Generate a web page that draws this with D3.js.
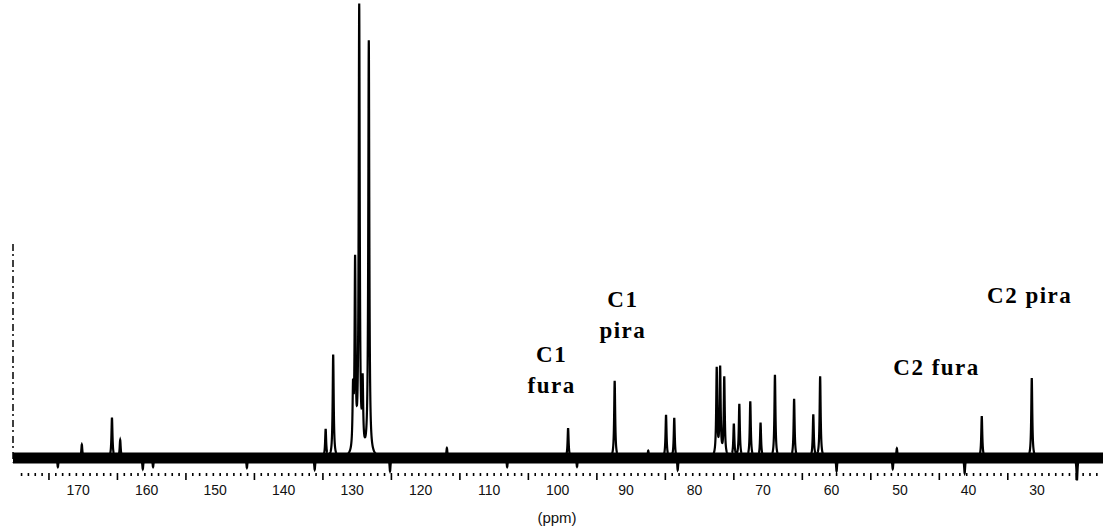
<!DOCTYPE html>
<html>
<head>
<meta charset="utf-8">
<script src="https://cdn.jsdelivr.net/npm/d3@7"></script>
<style>
  body { margin: 0; background: #fff; }
  svg { display: block; }
  .tick-label { font-family: "Liberation Sans", Arial, sans-serif; font-size: 14px; fill: #111; }
  .note { font-family: "Liberation Serif", "Times New Roman", serif; font-weight: bold; font-size: 23px; letter-spacing: 1.5px; fill: #000; }
</style>
</head>
<body>
<div id="viz"></div>
<script>
// peak list (ppm, relative height)
var peakPpm = [170.2, 165.8, 164.6, 134.6, 133.5, 130.6, 130.3, 129.7, 129.2, 128.3,
               99.2, 92.4, 84.9, 83.7, 77.5, 77.0, 76.4, 75.0, 74.2, 72.6, 71.1,
               69.0, 66.2, 63.4, 62.4, 38.8, 31.5];
var peakHeight = [3, 9, 4, 6.3, 23, 13, 42, 100, 14.6, 93,
                  6.7, 17.3, 9.6, 9.0, 19.7, 19.7, 17.7, 7.4, 11.9, 12.6, 7.8,
                  18.6, 13.2, 9.6, 18.2, 9.4, 17.9];

// larger noise spikes on the baseline
var noisePpm = [173.7, 161.3, 159.8, 146.1, 136.2, 125.2, 116.9, 108.1, 97.9, 87.5,
                83.2, 60.0, 51.8, 51.2, 41.3, 24.9];
var noiseHeight = [-2, -2.5, -2, -2.2, -2.7, -3.1, 2.2, -2, -2, 1.6,
                   -3, -3, -2.5, 2.2, -3.4, -5];

var tickValues = [170, 160, 150, 140, 130, 120, 110, 100, 90, 80, 70, 60, 50, 40, 30];

var width = 1103, height = 527;

var svg = d3.select("#viz")
    .append("svg")
    .attr("width", width)
    .attr("height", height);

svg.append("rect").attr("width", width).attr("height", height).attr("fill", "#fff");

// x: ppm decreasing to the right
var x = d3.scaleLinear()
    .domain([180.25, 21.1])
    .range([13, 1103]);

var y = d3.scaleLinear()
    .domain([0, 100])
    .range([458, 12]);

var hw = 0.09;
function lorentz(p, list, hts) {
    var s = 0;
    for (var i = 0; i < list.length; i++) {
        var d = (p - list[i]) / hw;
        s += hts[i] / (1 + d * d);
    }
    return s;
}

var grid = d3.range(180.25, 21.1, -0.01);

var line = d3.line()
    .x(function(d) { return x(d[0]); })
    .y(function(d) { return y(d[1]); });

// noise band
svg.append("line")
    .attr("x1", x(180.25)).attr("x2", x(21.1))
    .attr("y1", y(0)).attr("y2", y(0))
    .attr("stroke", "#000")
    .attr("stroke-width", 11);

// spectrum
svg.append("path")
    .datum(grid.map(function(p) {
        return [p, lorentz(p, peakPpm, peakHeight) + lorentz(p, noisePpm, noiseHeight)];
    }))
    .attr("d", line)
    .attr("fill", "none")
    .attr("stroke", "#000")
    .attr("stroke-width", 2.2);

// left dashed marker
svg.append("line")
    .attr("x1", x(180.25)).attr("x2", x(180.25))
    .attr("y1", y(48)).attr("y2", y(-1))
    .attr("stroke", "#000")
    .attr("stroke-width", 1.5)
    .attr("stroke-dasharray", "7,3,2,4");

// axis ticks: every 1 ppm, longer on odd fives
var minor = d3.range(179, 21, -1);
svg.selectAll(".mtick")
    .data(minor)
    .enter()
    .append("line")
    .attr("class", "mtick")
    .attr("x1", function(d) { return x(d); })
    .attr("x2", function(d) { return x(d); })
    .attr("y1", 473)
    .attr("y2", function(d) { return d % 10 === 5 ? 480 : 476; })
    .attr("stroke", "#000")
    .attr("stroke-width", 1.6);

svg.selectAll(".tick-label")
    .data(tickValues)
    .enter()
    .append("text")
    .attr("class", "tick-label")
    .attr("x", function(d) { return x(d) - 5; })
    .attr("y", 495)
    .attr("text-anchor", "middle")
    .text(function(d) { return d; });

svg.append("text")
    .attr("class", "tick-label")
    .attr("x", 557)
    .attr("y", 523)
    .attr("text-anchor", "middle")
    .style("font-size", "15px")
    .text("(ppm)");

// peak annotations
function note(ppm, lvl, txt) {
    svg.append("text")
        .attr("class", "note")
        .attr("x", x(ppm))
        .attr("y", y(lvl))
        .attr("text-anchor", "middle")
        .text(txt);
}
note(101.6, 21.5, "C1");
note(101.6, 14.6, "fura");
note(91.2, 33.9, "C1");
note(91.2, 26.9, "pira");
note(45.4, 18.6, "C2 fura");
note(31.8, 34.8, "C2 pira");
</script>
</body>
</html>
